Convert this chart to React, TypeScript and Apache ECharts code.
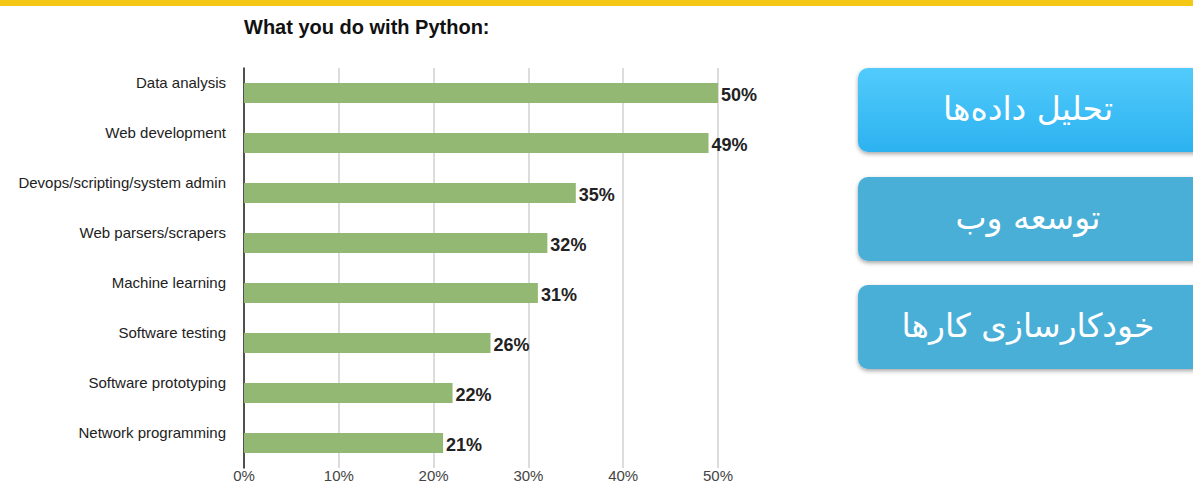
import React, { useEffect, useRef } from "react";
import * as echarts from "echarts";

const categories = [
  "Data analysis",
  "Web development",
  "Devops/scripting/system admin",
  "Web parsers/scrapers",
  "Machine learning",
  "Software testing",
  "Software prototyping",
  "Network programming",
];
const values = [50, 49, 35, 32, 31, 26, 22, 21];
const xTicks = [0, 10, 20, 30, 40, 50];
const title = "What you do with Python:";
const buttonLabels = ["تحلیل داده‌ها", "توسعه وب", "خودکارسازی کارها"];

export default function App() {
  const ref = useRef<HTMLDivElement>(null);
  useEffect(() => {
    if (!ref.current) return;
    const chart = echarts.init(ref.current, null, { renderer: "svg" });
    const btnTops = [68, 177, 285];
    const btnColors = [
      new echarts.graphic.LinearGradient(0, 0, 0, 1, [
        { offset: 0, color: "#52cbfb" },
        { offset: 1, color: "#2cb2f0" },
      ]),
      "#49afd7",
      "#49afd7",
    ];
    const graphics: any[] = [
      { type: "rect", shape: { x: 0, y: 0, width: 1193, height: 6 }, style: { fill: "#f5c816" } },
      {
        type: "text",
        x: 244,
        y: 27,
        style: {
          text: title,
          fill: "#111",
          font: "bold 20px 'Liberation Sans', Arial, sans-serif",
          textVerticalAlign: "middle",
        },
      },
    ];
    buttonLabels.forEach((t, i) => {
      graphics.push({
        type: "rect",
        shape: { x: 858, y: btnTops[i], width: 345, height: 84, r: 10 },
        style: {
          fill: btnColors[i],
          shadowBlur: 4,
          shadowOffsetY: 2,
          shadowColor: "rgba(0,0,0,0.35)",
        },
      });
      graphics.push({
        type: "text",
        x: 1028,
        y: btnTops[i] + 40,
        style: {
          text: t,
          fill: "#ffffff",
          font: "33px 'DejaVu Sans', sans-serif",
          textAlign: "center",
          textVerticalAlign: "middle",
        },
      });
    });
    chart.setOption({
      animation: false,
      backgroundColor: "#ffffff",
      grid: { left: 244, right: 475, top: 68, bottom: 15, containLabel: false },
      xAxis: {
        type: "value",
        min: 0,
        max: 50,
        interval: 10,
        axisLine: { show: false },
        axisTick: { show: false },
        splitLine: { show: true, lineStyle: { color: "#d0d0d0", width: 1.5 } },
        axisLabel: {
          formatter: (v: number) => (xTicks.includes(v) ? v + "%" : ""),
          color: "#444",
          fontSize: 15,
          fontFamily: "'Liberation Sans', Arial, sans-serif",
          margin: 0,
          verticalAlign: "top",
        },
      },
      yAxis: {
        type: "category",
        data: categories,
        inverse: true,
        axisLine: { show: true, lineStyle: { color: "#222", width: 1.5 } },
        axisTick: { show: false },
        splitLine: { show: false },
        axisLabel: {
          margin: 18,
          formatter: (v: string) => "{a|" + v + "}",
          rich: {
            a: {
              color: "#222",
              fontSize: 15,
              fontFamily: "'Liberation Sans', Arial, sans-serif",
              padding: [0, 0, 22, 0],
            },
          },
        },
      },
      series: [
        {
          type: "bar",
          data: values,
          barWidth: 20,
          itemStyle: { color: "#93b874" },
          label: {
            show: true,
            position: "right",
            distance: 3,
            offset: [0, 2],
            formatter: "{c}%",
            color: "#222",
            fontSize: 18,
            fontWeight: "bold",
            fontFamily: "'Liberation Sans', Arial, sans-serif",
          },
        },
      ],
      graphic: graphics,
    });
    return () => chart.dispose();
  }, []);
  return (
    <div
      ref={ref}
      style={{ position: "fixed", left: 0, top: 0, width: 1193, height: 483 }}
    />
  );
}
